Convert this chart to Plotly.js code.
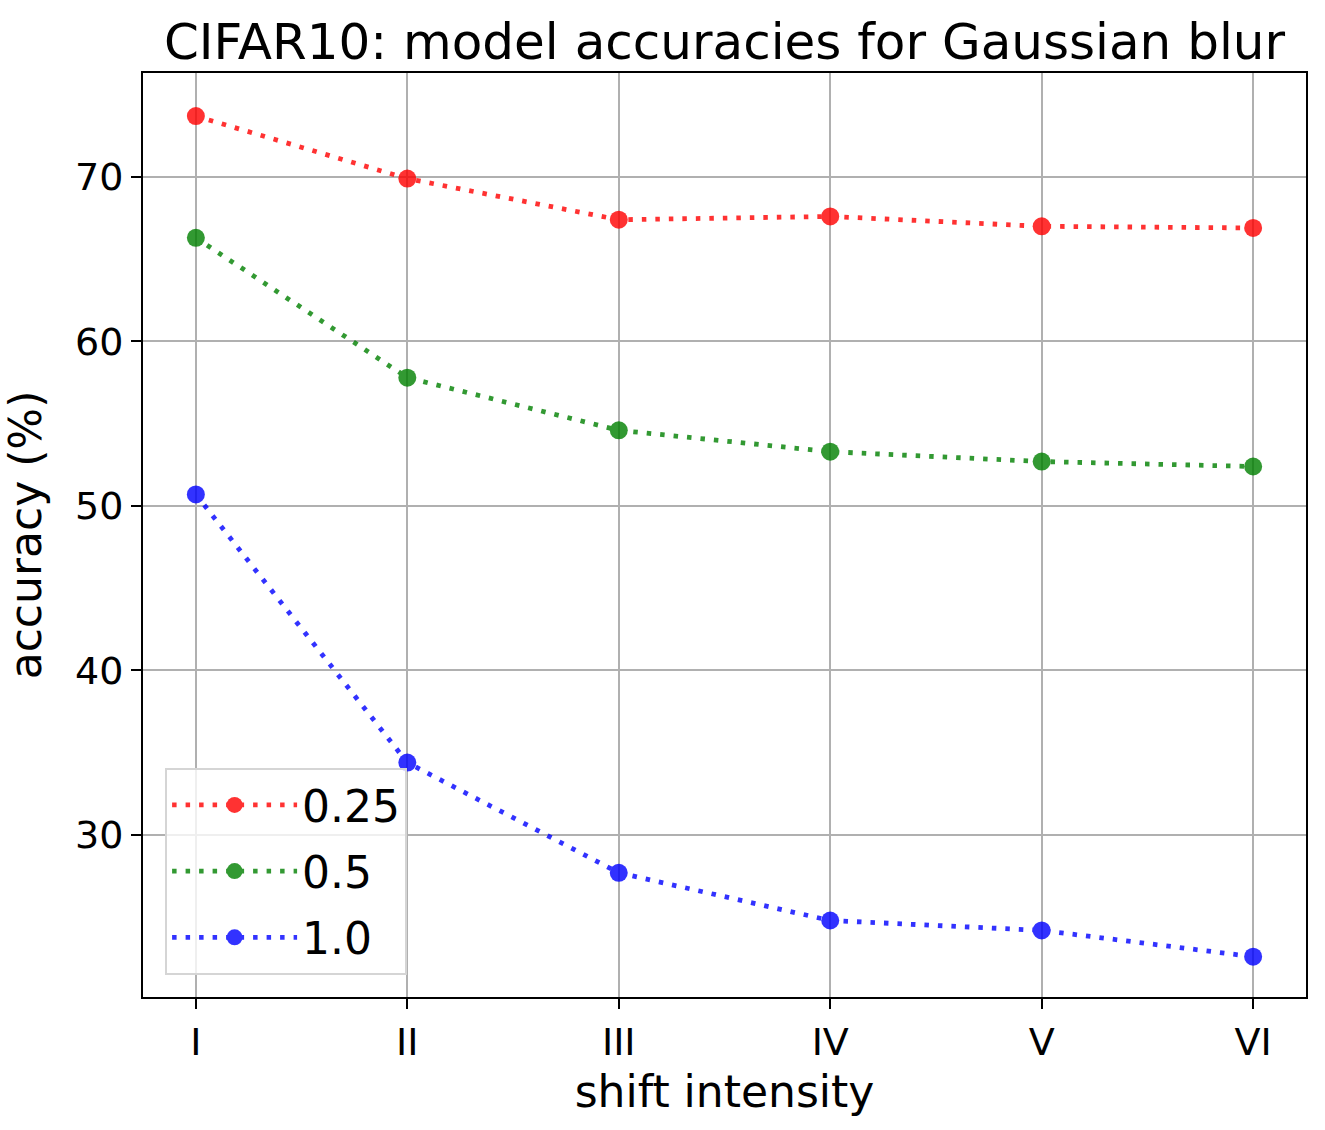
<!DOCTYPE html>
<html>
<head>
<meta charset="utf-8">
<script src="https://cdn.plot.ly/plotly-3.0.1.min.js"></script>
<style>
  html, body { margin: 0; padding: 0; background: #fff; }
  #chart { width: 1325px; height: 1130px; }
</style>
</head>
<body>
<div id="chart"></div>
<script>
// niveaux d'intensite du decalage
var intensities = [0, 1, 2, 3, 4, 5];
var intensityLabels = ['I', 'II', 'III', 'IV', 'V', 'VI'];

// precision (%) par parametre de flou
var acc025 = [73.7, 69.9, 67.4, 67.6, 67.0, 66.9];
var acc05 = [66.3, 57.8, 54.6, 53.3, 52.7, 52.4];
var acc10 = [50.7, 34.4, 27.7, 24.8, 24.2, 22.6];

var seriesNames = ['0.25', '0.5', '1.0'];
var seriesColors = ['#ff0000', '#008000', '#0000ff'];

function makeTrace(values, name, color) {
  return {
    x: intensities,
    y: values,
    name: name,
    legendgroup: name,
    type: 'scatter',
    mode: 'lines+markers',
    opacity: 0.8,
    line: { color: color, width: 4.8, dash: '4.5px,9px' },
    marker: { color: color, size: 18 }
  };
}

var data = [
  makeTrace(acc025, seriesNames[0], seriesColors[0]),
  makeTrace(acc05, seriesNames[1], seriesColors[1]),
  makeTrace(acc10, seriesNames[2], seriesColors[2])
];

var font = 'DejaVu Sans, sans-serif';

var layout = {
  width: 1325,
  height: 1130,
  margin: { l: 143, r: 19, t: 73, b: 133 },
  paper_bgcolor: '#fff',
  plot_bgcolor: '#fff',
  font: { family: font, color: '#000' },
  title: {
    text: 'CIFAR10: model accuracies for Gaussian blur',
    font: { size: 50, family: font, color: '#000' },
    x: 0.5, xref: 'paper', xanchor: 'center',
    y: 0.963, yref: 'container', yanchor: 'middle'
  },
  xaxis: {
    range: [-0.25, 5.25],
    tickvals: intensities,
    ticktext: intensityLabels,
    ticks: 'outside', ticklen: 10, tickwidth: 2, tickcolor: '#000',
    tickfont: { size: 38 },
    showgrid: true, gridcolor: '#b0b0b0', gridwidth: 2,
    showline: true, linecolor: '#000', linewidth: 2, mirror: true,
    zeroline: false,
    title: { text: 'shift intensity', font: { size: 44 }, standoff: 14 }
  },
  yaxis: {
    range: [20.15, 76.32],
    tickvals: [30, 40, 50, 60, 70],
    ticks: 'outside', ticklen: 10, tickwidth: 2, tickcolor: '#000',
    tickfont: { size: 38 },
    showgrid: true, gridcolor: '#b0b0b0', gridwidth: 2,
    showline: true, linecolor: '#000', linewidth: 2, mirror: true,
    zeroline: false,
    title: { text: 'accuracy (%)', font: { size: 44 }, standoff: 22 }
  },
  legend: {
    x: 0.019, y: 0.024, xanchor: 'left', yanchor: 'bottom',
    bgcolor: 'rgba(255,255,255,0.8)',
    bordercolor: '#d5d5d5', borderwidth: 2,
    font: { size: 44, family: font },
    itemwidth: 125,
    tracegroupgap: 6
  },
  showlegend: true
};

Plotly.newPlot('chart', data, layout, { displayModeBar: false });
</script>
</body>
</html>
